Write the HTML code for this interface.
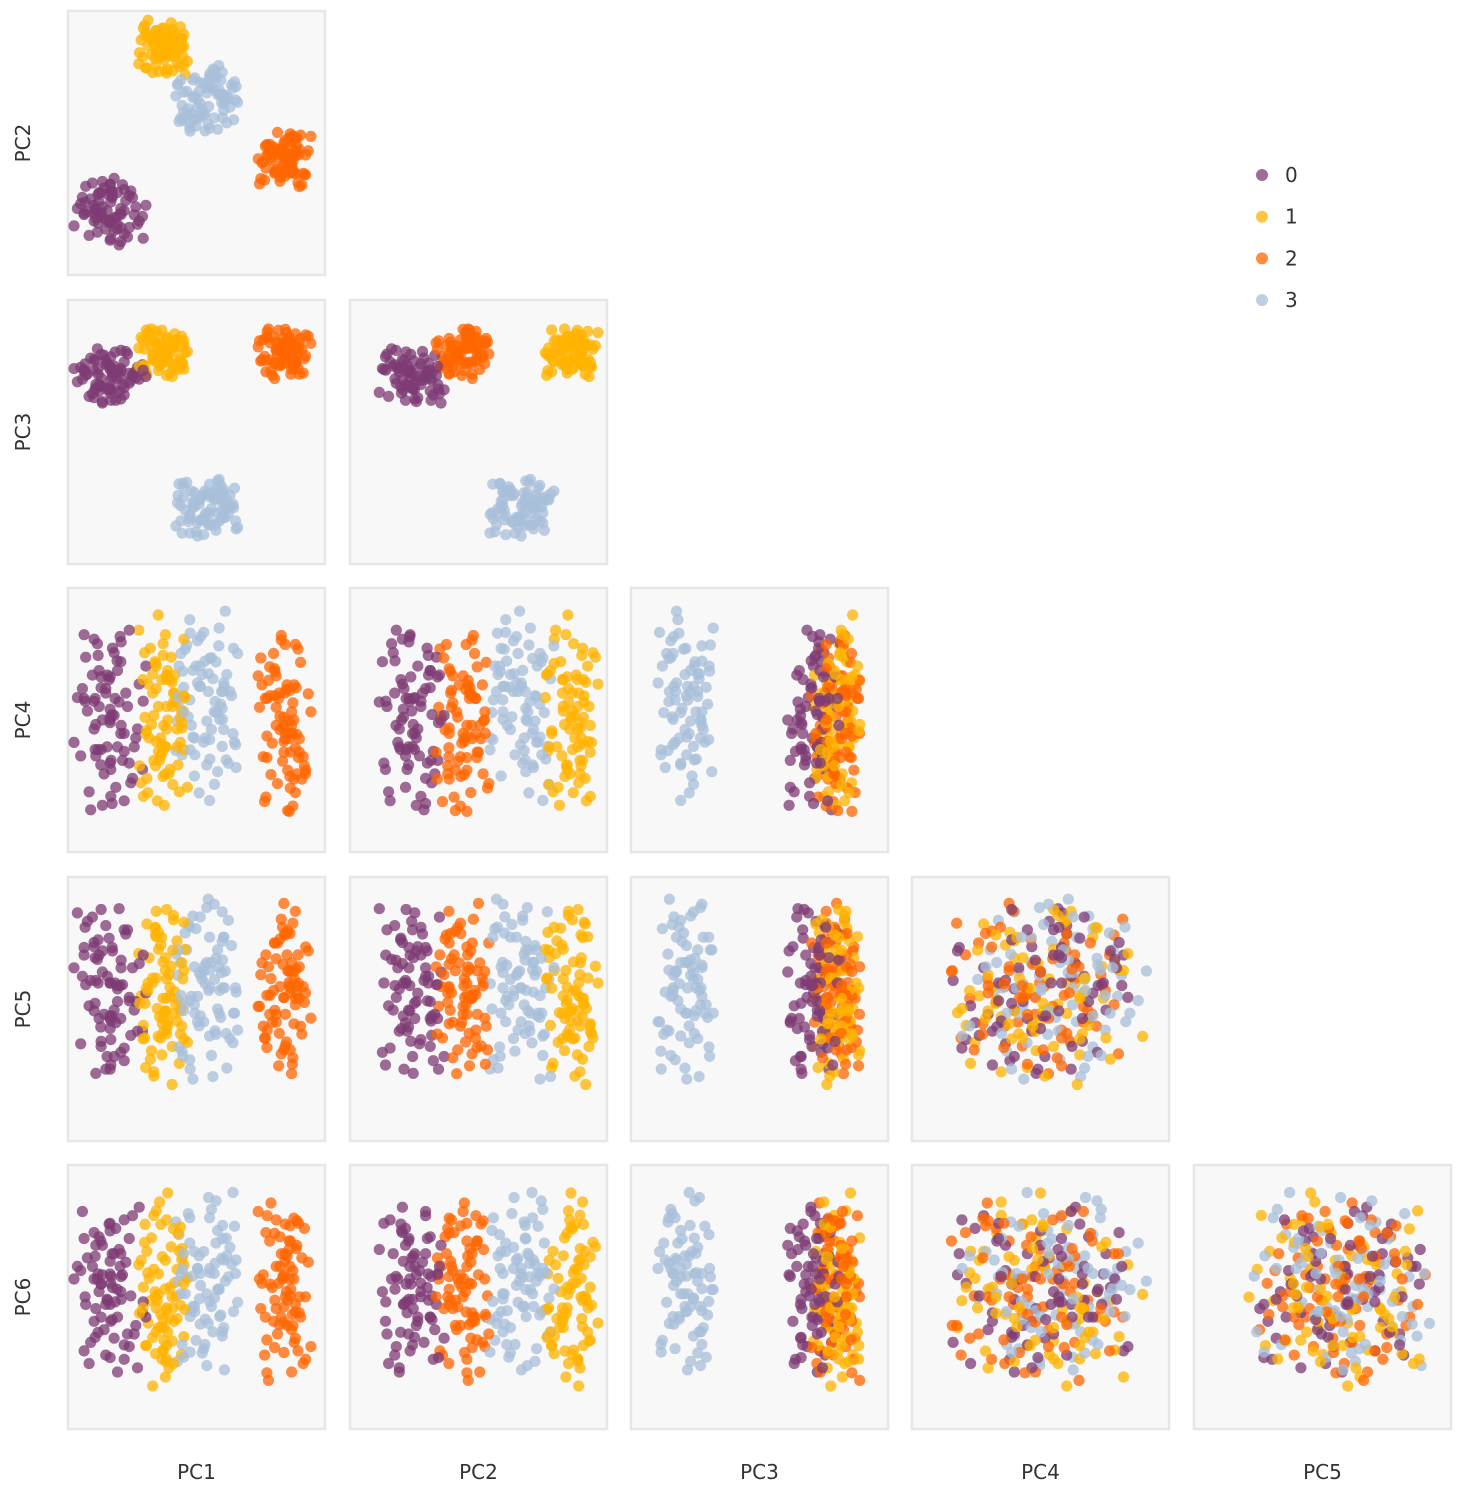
<!DOCTYPE html>
<html><head><meta charset="utf-8">
<style>
html,body{margin:0;padding:0;background:#fff;}
svg{display:block;font-family:"DejaVu Sans","Liberation Sans",sans-serif;}
</style></head>
<body>
<svg id="chart" width="1461" height="1497" viewBox="0 0 1461 1497"></svg>
<script>
// Component names
const pcs = ["PC1","PC2","PC3","PC4","PC5","PC6"];
const clusters = ["0","1","2","3"];
const clusterColors = ["#7d3b74","#ffb300","#ff6600","#a8bfd9"];
// Cluster centers per component (fraction of axis range)
const centers0 = [0.16,0.24,0.71,0.50,0.56,0.52];
const centers1 = [0.37,0.86,0.80,0.50,0.55,0.52];
const centers2 = [0.84,0.44,0.80,0.48,0.57,0.52];
const centers3 = [0.54,0.66,0.21,0.56,0.58,0.56];
// Cluster spreads per component
const spread0 = [0.065,0.06,0.05,0.17,0.16,0.16];
const spread1 = [0.045,0.05,0.045,0.17,0.16,0.17];
const spread2 = [0.05,0.05,0.045,0.17,0.15,0.16];
const spread3 = [0.06,0.06,0.055,0.16,0.16,0.16];
// Offsets table (standardized scatter within clusters)
const offsets = [
[0.3,-1.2,0.8,1.5,-0.4,0.9],[-0.9,0.4,-1.6,-0.2,1.1,-0.7],[1.4,0.9,0.1,-1.3,0.6,1.8],[-0.2,-0.5,1.2,0.7,-1.8,-0.3],
[0.8,1.7,-0.6,-0.9,0.2,0.4],[-1.5,-0.1,0.5,1.9,0.9,-1.4],[0.1,0.6,-0.3,-1.7,-1.1,0.2],[1.1,-1.6,1.7,0.3,1.5,-1.0],
[-0.6,1.2,-1.1,1.1,-0.6,1.3],[0.5,-0.8,0.3,-0.6,0.1,-1.9],[-1.9,0.2,-0.4,0.5,1.9,0.6],[2.0,-0.3,0.9,-1.1,-0.9,-0.5],
[-0.4,1.9,-2.0,0.0,0.5,1.1],[0.7,-1.9,0.6,1.3,-1.4,0.0],[-1.1,0.8,1.4,-2.0,0.3,-1.2],[0.0,-0.7,-0.8,0.9,1.3,1.6],
[1.6,0.3,-0.1,-0.4,-0.2,-0.8],[-0.7,-1.3,2.1,1.7,0.8,0.3],[0.9,1.4,-1.4,-0.7,-1.6,-1.6],[-1.3,0.0,0.2,0.2,1.7,0.8],
[0.4,-0.4,-1.8,-1.5,-0.7,1.5],[-0.1,1.1,1.0,1.0,0.4,-0.2],[1.2,-1.0,-0.5,2.0,-0.1,-1.3],[-1.7,0.5,0.7,-0.8,-1.2,0.5],
[0.6,-2.1,-1.2,0.4,2.0,1.0],[-0.3,1.5,1.6,-1.2,-0.5,-0.9],[1.8,-0.6,-0.2,0.8,0.7,2.0],[-0.8,0.1,-0.9,-0.1,-1.9,-0.4],
[0.2,1.0,0.4,1.6,1.0,0.1],[-1.2,-1.5,-1.5,-1.6,-0.3,-1.7],[1.0,0.7,1.9,0.6,1.4,0.7],[-0.5,-0.2,-0.7,-1.0,-0.8,1.2],
[2.2,0.4,0.0,1.2,0.0,-0.6],[-2.1,-0.9,0.6,-0.5,0.6,0.3],[0.3,2.1,-1.0,0.1,-1.5,-1.1],[-0.9,-0.6,1.3,1.8,1.2,1.4],
[1.3,1.3,-0.3,-1.4,-1.0,-0.1],[-0.2,-1.1,0.9,0.6,1.6,-1.5],[0.7,0.2,-1.7,-0.3,-0.6,0.9],[-1.4,1.6,0.1,1.4,0.2,-0.3],
[0.9,-1.4,1.1,-1.8,-1.3,1.7],[-0.6,0.6,-0.6,0.3,0.9,0.0],[1.5,-0.2,0.3,-0.6,-0.4,-1.0],[-1.0,1.8,-1.3,1.0,1.8,0.6],
[0.1,-1.7,1.5,-1.1,-1.7,-0.7],[-1.6,0.9,-0.2,0.7,0.4,1.9],[1.7,-0.8,0.7,-0.2,-0.9,-1.8],[-0.4,0.3,-1.9,-1.9,1.0,0.4],
[0.5,1.2,0.5,1.1,-0.2,-0.6],[-0.8,-0.4,-0.6,-0.8,0.3,1.1]
];
const pointsPerCluster = 78;

const svg = document.getElementById('chart');
const NS = 'http://www.w3.org/2000/svg';
const colLeft = [68,350,631,912,1194];
const rowTop = [11,300,588,877,1165];
const PW = 257, PH = 264;
function sx(col, v){ return colLeft[col] + v*PW; }
function sy(row, v){ return rowTop[row] + (1-v)*PH; }
function mk(tag, attrs){ const e=document.createElementNS(NS,tag); for(const k in attrs) e.setAttribute(k,attrs[k]); return e; }

const allCenters=[centers0,centers1,centers2,centers3];
const allSpreads=[spread0,spread1,spread2,spread3];
function value(c, i, d){
  const r = offsets[(i + c*13) % offsets.length];
  const r2 = offsets[(i*7 + c*5 + 3) % offsets.length];
  const r3 = offsets[(i*11 + c*3 + 17) % offsets.length];
  const z = i < offsets.length ? r[(d + c) % 6] : 0.6*r2[(d + 2*c + 1) % 6] + 0.6*r3[(d + 4) % 6];
  return allCenters[c][d] + allSpreads[c][d]*z;
}

const defs = mk('defs',{});
svg.appendChild(defs);

for(let row=0; row<5; row++){
  for(let col=0; col<=row; col++){
    const ydim = row+1, xdim = col;
    const cp = mk('clipPath',{id:'cp'+row+col});
    cp.appendChild(mk('rect',{x:colLeft[col],y:rowTop[row],width:PW,height:PH}));
    defs.appendChild(cp);
    const bg = mk('rect',{x:colLeft[col],y:rowTop[row],width:PW,height:PH,fill:'#f8f8f8',stroke:'#e6e6e6','stroke-width':2.5});
    
    
    svg.appendChild(bg);
    const g = mk('g',{'clip-path':'url(#cp'+row+col+')'});
    
    
    svg.appendChild(g);
    for(let i=0;i<pointsPerCluster;i++){
      for(let c=0;c<4;c++){
        const pt = mk('circle',{cx:sx(col,value(c,i,xdim)).toFixed(1),cy:sy(row,value(c,i,ydim)).toFixed(1),r:5.6,fill:clusterColors[c],'fill-opacity':0.75});
        
        
        g.appendChild(pt);
      }
    }
  }
}
// y labels
for(let row=0;row<5;row++){
  const cy = rowTop[row]+PH/2;
  const t = mk('text',{x:30,y:cy,transform:'rotate(-90 30 '+cy+')','text-anchor':'middle','font-size':20,fill:'#333'});
  t.textContent = pcs[row+1];
  
  
  svg.appendChild(t);
}
// x labels
for(let col=0;col<5;col++){
  const t = mk('text',{x:colLeft[col]+PW/2,y:1479,'text-anchor':'middle','font-size':20,fill:'#333'});
  t.textContent = pcs[col];
  
  
  svg.appendChild(t);
}
// legend
const lg = mk('g',{});


svg.appendChild(lg);
for(let c=0;c<4;c++){
  const y = 175 + c*41.7;
  const e = mk('g',{});
  
  
  e.appendChild(mk('circle',{cx:1262,cy:y,r:6,fill:clusterColors[c],'fill-opacity':0.75}));
  const t = mk('text',{x:1285,y:y+7,'font-size':20,fill:'#333'});
  t.textContent = clusters[c];
  e.appendChild(t);
  lg.appendChild(e);
}
</script>
</body></html>
